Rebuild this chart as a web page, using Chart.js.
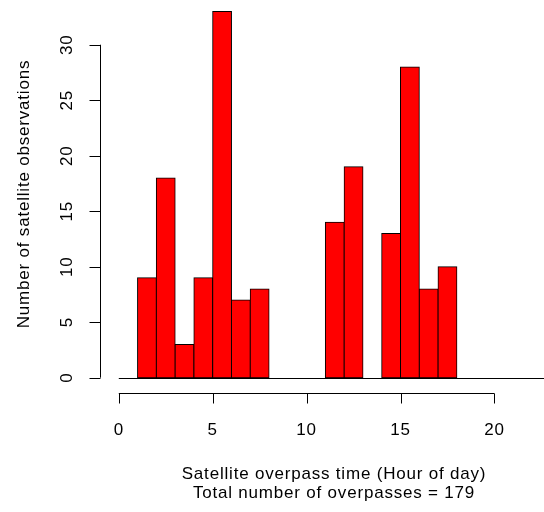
<!DOCTYPE html>
<html lang="en">
<head>
  <meta charset="UTF-8" />
  <title>Satellite overpasses</title>
  <style>
    html, body { margin: 0; padding: 0; background: #fff; }
    #wrap { width: 544px; height: 512px; }
  </style>
</head>
<body>
  <div id="wrap"><canvas id="chart" width="544" height="512"></canvas></div>
  <script src="https://cdn.jsdelivr.net/npm/chart.js@4"></script>
  <script>
// histogram bins: hour of day, breaks 0..24
const binStarts = [0, 1, 2, 3, 4, 5, 6, 7, 8, 9, 10, 11, 12, 13, 14, 15, 16, 17, 18, 19, 20, 21, 22, 23]
const counts = [0, 9, 18, 3, 9, 33, 7, 8, 0, 0, 0, 14, 19, 0, 13, 28, 8, 10, 0, 0, 0, 0, 0, 0]
const xTicks = [0, 5, 10, 15, 20]
const yTicks = [0, 5, 10, 15, 20, 25, 30]
const xTitle = 'Satellite overpass time (Hour of day)'
const subTitle = 'Total number of overpasses = 179'
const yTitle = 'Number of satellite observations'

const FONT = '17px "Liberation Sans", Arial, sans-serif'

// R style axes, drawn from the chart scales
const rAxes = {
  id: 'rAxes',
  afterDraw(chart) {
    const ctx = chart.ctx
    const xs = chart.scales.x
    const ys = chart.scales.y
    const axisX = Math.round(chart.chartArea.left) + 0.5
    const axisY = Math.round(chart.chartArea.bottom) + 0.5
    ctx.save()
    ctx.strokeStyle = '#000'
    ctx.fillStyle = '#000'
    ctx.lineWidth = 1
    ctx.font = FONT
    ctx.letterSpacing = '0.8px'

    // bar baseline for the empty bins
    const y0 = Math.round(ys.getPixelForValue(0)) + 0.5
    ctx.beginPath()
    ctx.moveTo(xs.getPixelForValue(0), y0)
    ctx.lineTo(xs.getPixelForValue(24), y0)
    ctx.stroke()

    // x axis
    ctx.beginPath()
    ctx.moveTo(xs.getPixelForValue(xTicks[0]), axisY)
    ctx.lineTo(xs.getPixelForValue(xTicks[xTicks.length - 1]), axisY)
    xTicks.forEach(t => {
      const px = Math.round(xs.getPixelForValue(t)) + 0.5
      ctx.moveTo(px, axisY)
      ctx.lineTo(px, axisY + 10)
    })
    ctx.stroke()
    ctx.textAlign = 'center'
    ctx.textBaseline = 'middle'
    xTicks.forEach(t => ctx.fillText(String(t), xs.getPixelForValue(t), 430))

    // y axis
    ctx.beginPath()
    ctx.moveTo(axisX, ys.getPixelForValue(yTicks[0]))
    ctx.lineTo(axisX, ys.getPixelForValue(yTicks[yTicks.length - 1]))
    yTicks.forEach(t => {
      const py = Math.round(ys.getPixelForValue(t)) + 0.5
      ctx.moveTo(axisX, py)
      ctx.lineTo(axisX - 11, py)
    })
    ctx.stroke()
    yTicks.forEach(t => {
      ctx.save()
      ctx.translate(67, ys.getPixelForValue(t))
      ctx.rotate(-Math.PI / 2)
      ctx.fillText(String(t), 0, 0)
      ctx.restore()
    })

    // titles
    ctx.fillText(xTitle, 334, 474)
    ctx.fillText(subTitle, 334, 493)
    ctx.save()
    ctx.translate(24, 194)
    ctx.rotate(-Math.PI / 2)
    ctx.fillText(yTitle, 0, 0)
    ctx.restore()
    ctx.restore()
  }
}

new Chart(document.getElementById('chart'), {
  type: 'bar',
  data: {
    datasets: [{
      data: binStarts.map((b, i) => ({ x: b + 0.5, y: counts[i] })),
      backgroundColor: '#ff0000',
      borderColor: '#000000',
      borderWidth: 1,
      borderSkipped: false,
      inflateAmount: 0.5,
      barPercentage: 1,
      categoryPercentage: 1
    }]
  },
  options: {
    responsive: false,
    animation: false,
    layout: { padding: { left: 100, right: 0, top: 0, bottom: 119 } },
    plugins: { legend: { display: false }, tooltip: { enabled: false } },
    scales: {
      x: { type: 'linear', offset: false, min: -1, max: 22.64, display: false },
      y: { min: -1.38, max: 34.03, display: false }
    }
  },
  plugins: [rAxes]
})
  </script>
</body>
</html>
